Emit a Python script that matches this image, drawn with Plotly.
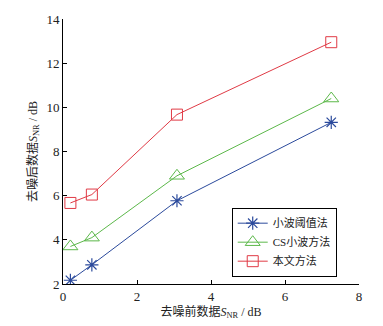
import plotly.graph_objects as go

x_vals = [0.2, 0.78, 3.08, 7.25]
wavelet_thresh = [2.17, 2.87, 5.77, 9.32]
cs_wavelet = [3.7, 4.1, 6.9, 10.4]
proposed = [5.67, 6.05, 9.67, 12.95]
names = ["小波阈值法", "CS小波方法", "本文方法"]

font_fam = "Liberation Serif, Noto Sans CJK SC, serif"
fig = go.Figure()
fig.add_trace(go.Scatter(x=x_vals, y=wavelet_thresh, name=names[0], mode="lines+markers",
                         line=dict(color="#2b4a9c", width=1),
                         marker=dict(symbol="asterisk-open", size=11, color="#2b4a9c", line=dict(width=1.2, color="#2b4a9c"))))
fig.add_trace(go.Scatter(x=x_vals, y=cs_wavelet, name=names[1], mode="lines+markers",
                         line=dict(color="#5cb84a", width=1),
                         marker=dict(symbol="triangle-up-open", size=13, color="#5cb84a", line=dict(width=1))))
fig.add_trace(go.Scatter(x=x_vals, y=proposed, name=names[2], mode="lines+markers",
                         line=dict(color="#e03a45", width=1),
                         marker=dict(symbol="square-open", size=11, color="#e03a45", line=dict(width=1))))

axis_common = dict(showline=True, linecolor="black", linewidth=1, ticks="inside", ticklen=4,
                   tickcolor="black", showgrid=False, zeroline=False,
                   tickfont=dict(family=font_fam, size=13, color="#222"))
fig.update_xaxes(range=[0, 8], dtick=2, **axis_common,
                 title=dict(text="去噪前数据<i>S</i><sub>NR</sub> / dB", font=dict(family=font_fam, size=12, color="#222"), standoff=2))
fig.update_yaxes(range=[2, 14], dtick=2, **axis_common,
                 title=dict(text="去噪后数据<i>S</i><sub>NR</sub> / dB", font=dict(family=font_fam, size=12, color="#222"), standoff=6))
fig.update_layout(width=383, height=326, margin=dict(l=63, r=24, t=14, b=35),
                  plot_bgcolor="white", paper_bgcolor="white",
                  legend=dict(x=0.57, y=0.288, xanchor="left", yanchor="top", bordercolor="black", borderwidth=1,
                              font=dict(family=font_fam, size=11, color="#222"), bgcolor="white",
                              tracegroupgap=0, itemwidth=30))
fig.write_html("out.html", config={"displayModeBar": False},
               post_script="document.body.style.margin='0';document.body.style.overflow='hidden';")
